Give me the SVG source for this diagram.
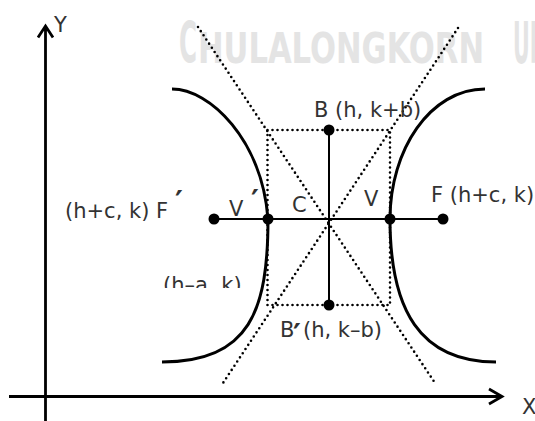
<svg xmlns="http://www.w3.org/2000/svg" width="535" height="421" viewBox="0 0 535 421">
<style>
.wm{font-family:"DejaVu Sans Condensed","DejaVu Sans",sans-serif;font-weight:bold;fill:#e4e4e4}
.lbl{font-family:"DejaVu Sans","Noto Sans",sans-serif;font-size:21px;fill:#333}
.pr{font-family:"DejaVu Sans","Noto Sans",sans-serif;font-size:30px;font-weight:bold;fill:#333}
.axis{stroke:#000;stroke-width:2.8;fill:none}
.seg{stroke:#000;stroke-width:2;fill:none}
.dot{stroke:#000;stroke-width:2.6;fill:none;stroke-dasharray:0 5;stroke-linecap:round}
.hyp{stroke:#000;stroke-width:3;fill:none}
.pt{fill:#000}
</style>
<defs>
<clipPath id="clipHA"><rect x="0" y="0" width="535" height="288"/></clipPath>
</defs>
<g id="watermark">
<text class="wm" y="63"><tspan x="179" font-size="57" textLength="18" lengthAdjust="spacingAndGlyphs">C</tspan><tspan x="198" font-size="43" textLength="286" lengthAdjust="spacingAndGlyphs">HULALONGKORN</tspan><tspan x="513" font-size="57" textLength="34" lengthAdjust="spacingAndGlyphs">UN</tspan></text>
</g>
<g id="connectors">
<path id="y-axis" class="axis" d="M45.5,421 V27 M38,37.5 L45.5,26 L53,37.5"/>
<path id="x-axis" class="axis" d="M9,396.5 H501 M489,389 L502,396.5 L489,404"/>
<path id="asymptote1" class="dot" d="M198,27 L435,383"/>
<path id="asymptote2" class="dot" d="M458,28 L223,383"/>
<rect id="box" class="dot" x="267.5" y="130" width="122.5" height="175"/>
<path id="transverse" class="seg" d="M214,219 H443"/>
<path id="conjugate" class="seg" d="M329,130 V305"/>
<path id="left-branch" class="hyp" d="M172,89 C210,89 262,140 268,219 C268,310 250,362 162,362"/>
<path id="right-branch" class="hyp" d="M485,89 C430,89 390,150 390,219 C390,310 420,362 496,362"/>
</g>
<g id="node-Fp"><circle class="pt" cx="214" cy="219" r="5.5"/><text class="lbl" x="65" y="218">(h+c, k) F</text><text class="pr" x="175" y="212">′</text></g>
<g id="node-Vp"><circle class="pt" cx="268" cy="219" r="5.5"/><text class="lbl" x="229" y="216">V</text><text class="pr" x="251" y="211">′</text></g>
<g id="node-C"><text class="lbl" x="292" y="212">C</text></g>
<g id="node-V"><circle class="pt" cx="390" cy="219" r="5.5"/><text class="lbl" x="364" y="206">V</text></g>
<g id="node-F"><circle class="pt" cx="443" cy="219" r="5.5"/><text class="lbl" x="431" y="202">F (h+c, k)</text></g>
<g id="node-B"><circle class="pt" cx="329" cy="130" r="5.5"/><text class="lbl" x="314" y="117">B (h, k+b)</text></g>
<g id="node-Bp"><circle class="pt" cx="329" cy="305" r="5.5"/><text class="lbl" x="280" y="337">B</text><text class="pr" x="293" y="345">′</text><text class="lbl" x="303" y="337">(h, k–b)</text></g>
<g id="node-ha" clip-path="url(#clipHA)"><text class="lbl" x="163" y="292">(h–a, k)</text></g>
<g id="labels-axes"><text class="lbl" x="54" y="32">Y</text><text class="lbl" x="522" y="414">X</text></g>
</svg>
